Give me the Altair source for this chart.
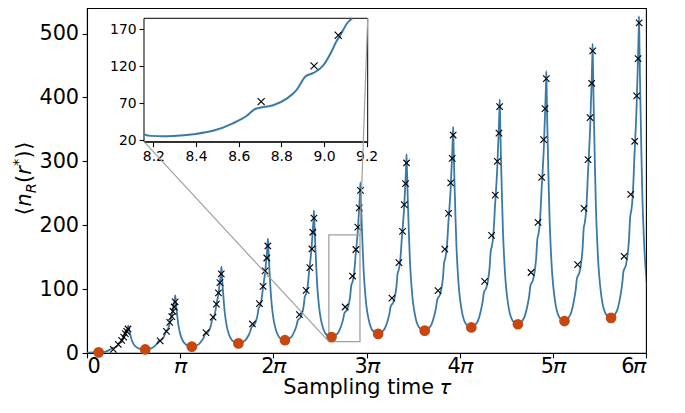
import math
import altair as alt
import pandas as pd

PI = math.pi

# ---------------- data ----------------
# minima of the curve (orange dots): tau in units of pi, value
min_tau_pi = [0.125, 0.625, 1.125, 1.625, 2.125, 2.625, 3.125, 3.625, 4.125, 4.625, 5.125, 5.625]
min_val = [1.0, 5.5, 10.0, 15.0, 20.0, 25.0, 30.0, 35.0, 40.0, 45.0, 50.0, 55.0]
edge_min_val = 60.0  # minimum lying just beyond the right edge (6 pi)

# peaks of the curve
peak_tau_pi = [0.444, 0.947, 1.443, 1.942, 2.436, 2.935, 3.430, 3.930, 4.430, 4.930, 5.427, 5.925]
peak_val = [43, 90, 135, 179, 223, 267, 311, 354, 397, 441, 484, 527]

# shape of one rise (fraction of time / fraction of height)
rise_s = [0.000, 0.048, 0.145, 0.239, 0.335, 0.400, 0.442, 0.465, 0.529, 0.594, 0.642, 0.684,
          0.723, 0.771, 0.810, 0.832, 0.852, 0.884, 0.910, 0.935, 0.955, 0.975, 0.990, 1.000]
rise_f = [0.000, 0.002, 0.012, 0.031, 0.073, 0.114, 0.153, 0.160, 0.174, 0.211, 0.260, 0.335,
          0.355, 0.399, 0.475, 0.529, 0.566, 0.632, 0.690, 0.770, 0.830, 0.900, 0.955, 1.000]
# shape of one fall: time after the peak (units of pi) / fraction of the drop left
fall_d = [0.005, 0.010, 0.017, 0.025, 0.035, 0.048, 0.063, 0.080, 0.100, 0.120, 0.145, 0.170]
fall_g = [0.900, 0.800, 0.680, 0.550, 0.410, 0.290, 0.190, 0.120, 0.065, 0.032, 0.012, 0.003]

# flat start of the curve
start_tau_pi = [0.0, 0.06]
start_val = [0.6, 0.8]

# sampled points (crosses)
cross_tau_pi = [
    0.283, 0.336, 0.372, 0.394, 0.411, 0.426, 0.440,
    0.785, 0.853, 0.888, 0.910, 0.923, 0.936, 0.946,
    1.277, 1.353, 1.389, 1.411, 1.427, 1.441,
    1.776, 1.851, 1.890, 1.912, 1.930, 1.941,
    2.280, 2.352, 2.392, 2.414, 2.424, 2.436,
    2.771, 2.850, 2.886, 2.907, 2.922, 2.936,
    3.273, 3.348, 3.387, 3.405, 3.419, 3.430,
    3.768, 3.841, 3.881, 3.904, 3.920, 3.930,
    4.268, 4.343, 4.382, 4.404, 4.422, 4.429,
    4.766, 4.841, 4.880, 4.901, 4.916, 4.930,
    5.266, 5.335, 5.378, 5.400, 5.417, 5.428,
    5.765, 5.836, 5.879, 5.900, 5.915, 5.926]
cross_val = [
    5.8, 13.6, 19.9, 25.0, 30.3, 34.0, 37.6,
    19.0, 34.0, 48.0, 57.0, 65.0, 72.0, 80.0,
    32.0, 56.0, 76.5, 94.0, 110.0, 124.0,
    45.4, 77.3, 104.4, 128.4, 148.7, 167.5,
    60.0, 98.0, 133.7, 162.8, 189.0, 211.0,
    72.0, 120.5, 162.0, 197.0, 227.0, 254.7,
    86.0, 141.5, 190.5, 232.3, 265.0, 297.4,
    97.5, 162.6, 218.4, 266.3, 304.6, 341.2,
    112.0, 184.0, 247.0, 300.0, 344.0, 385.7,
    126.0, 204.6, 275.0, 334.0, 382.6, 429.6,
    138.4, 226.5, 302.7, 368.5, 422.2, 472.8,
    151.4, 248.4, 331.4, 402.3, 460.9, 516.6]

x_tick_pi = [0, 1, 2, 3, 4, 5, 6]
y_ticks = [0, 100, 200, 300, 400, 500]
inset_x_ticks = [8.2, 8.4, 8.6, 8.8, 9.0, 9.2]
inset_y_ticks = [20, 70, 120, 170]

# ---------------- build tables ----------------
c_tau = list(start_tau_pi)
c_val = list(start_val)
for k in range(len(min_tau_pi)):
    t0, v0 = min_tau_pi[k], min_val[k]
    t1, v1 = peak_tau_pi[k], peak_val[k]
    for s, f in zip(rise_s, rise_f):
        c_tau.append(t0 + s * (t1 - t0))
        c_val.append(v0 + f * (v1 - v0))
    nv = min_val[k + 1] if k + 1 < len(min_val) else edge_min_val
    for d, g in zip(fall_d, fall_g):
        c_tau.append(t1 + d)
        c_val.append(nv + g * (v1 - nv))

df_curve = pd.DataFrame({"tau": [t * PI for t in c_tau], "v": c_val})
df_cross = pd.DataFrame({"tau": [t * PI for t in cross_tau_pi], "v": cross_val})
df_min = pd.DataFrame({"tau": [t * PI for t in min_tau_pi], "v": min_val})

# ---------------- layout ----------------
W, H = 559, 345
X_DOM = [0, 6 * PI]
Y_DOM = [0, 540]
INS_X = [8.156, 9.205]
INS_Y = [17.7, 185.0]
INS_PX = [57.0, 280.7]    # inset box, view pixels
INS_PY = [133.7, 10.3]

FONT = "DejaVu Sans"
BLUE = "#3b7aa7"
ORANGE = "#c8470e"
GREY = "#a0a0a0"
XSHAPE = "M-1,-1L1,1M1,-1L-1,1"

xs = alt.Scale(domain=X_DOM, nice=False, zero=False)
ys = alt.Scale(domain=Y_DOM, nice=False, zero=False)

x_axis = alt.Axis(
    values=[k * PI for k in x_tick_pi],
    labelExpr="round(datum.value / PI) == 0 ? '0' : (round(datum.value / PI) == 1 ? '\U0001D70B' : round(datum.value / PI) + '\U0001D70B')",
    labelBaseline="alphabetic", labelPadding=14.5,
    title="Sampling time \U0001D70F", titleBaseline="alphabetic", titleY=40.5,
)
y_axis = alt.Axis(values=y_ticks, title=None)

curve = alt.Chart(df_curve).mark_line(
    color=BLUE, strokeWidth=1.8, interpolate="monotone", clip=True
).encode(x=alt.X("tau:Q", scale=xs, axis=x_axis), y=alt.Y("v:Q", scale=ys, axis=y_axis))

dots = alt.Chart(df_min).mark_circle(size=115, color=ORANGE, opacity=1).encode(
    x=alt.X("tau:Q", scale=xs), y=alt.Y("v:Q", scale=ys))

crosses = alt.Chart(df_cross).mark_point(
    shape=XSHAPE, size=42, filled=False, color="black", strokeWidth=1.1, opacity=1
).encode(x=alt.X("tau:Q", scale=xs), y=alt.Y("v:Q", scale=ys))

df_box = pd.DataFrame({"tau": [INS_X[0]], "tau2": [INS_X[1]], "v": [INS_Y[0]], "v2": [INS_Y[1]]})
indicator = alt.Chart(df_box).mark_rect(
    fillOpacity=0, stroke=GREY, strokeWidth=1.3
).encode(x=alt.X("tau:Q", scale=xs), x2="tau2:Q", y=alt.Y("v:Q", scale=ys), y2="v2:Q")

main = alt.layer(curve, indicator, dots, crosses)

# inset
ixs = alt.Scale(domain=INS_X, range=INS_PX, nice=False, zero=False, clamp=True)
iys = alt.Scale(domain=INS_Y, range=INS_PY, nice=False, zero=False, clamp=True)
ix_axis = alt.Axis(orient="bottom", offset=INS_PY[0] - H, values=inset_x_ticks, format=".1f",
                   labelFontSize=13.9, title=None, labelFlush=False, labelPadding=3)
iy_axis = alt.Axis(orient="left", offset=-INS_PX[0], values=inset_y_ticks,
                   labelFontSize=13.9, title=None, labelPadding=3)

inset_bg = alt.Chart(df_box).mark_rect(fill="white", stroke="black", strokeWidth=1).encode(
    x=alt.X("tau:Q", scale=ixs, axis=ix_axis), x2="tau2:Q",
    y=alt.Y("v:Q", scale=iys, axis=iy_axis), y2="v2:Q")
inset_curve = alt.Chart(df_curve).transform_filter(
    (alt.datum.tau >= 8.10) & (alt.datum.tau <= 9.14)
).mark_line(color=BLUE, strokeWidth=2.0, interpolate="monotone").encode(
    x=alt.X("tau:Q", scale=ixs), y=alt.Y("v:Q", scale=iys))
inset_cross = alt.Chart(df_cross).transform_filter(
    (alt.datum.tau >= INS_X[0]) & (alt.datum.tau <= INS_X[1]) & (alt.datum.v <= INS_Y[1])
).mark_point(shape=XSHAPE, size=50, filled=False, color="black", strokeWidth=1.1, opacity=1).encode(
    x=alt.X("tau:Q", scale=ixs), y=alt.Y("v:Q", scale=iys))

inset = alt.layer(inset_bg, inset_curve, inset_cross)

# connector lines (main data coordinates)
def px_to_tau(px):
    return px / W * X_DOM[1]

def py_to_v(py):
    return (H - py) / H * Y_DOM[1]

df_conn = pd.DataFrame({
    "tau": [INS_X[0], INS_X[1]],
    "v": [INS_Y[0], INS_Y[1]],
    "tau2": [px_to_tau(INS_PX[0]), px_to_tau(INS_PX[1])],
    "v2": [py_to_v(INS_PY[0]), py_to_v(INS_PY[1])],
})
conn = alt.Chart(df_conn).mark_rule(color=GREY, strokeWidth=1.2).encode(
    x=alt.X("tau:Q", scale=alt.Scale(domain=X_DOM, nice=False, zero=False), axis=None), x2="tau2:Q",
    y=alt.Y("v:Q", scale=alt.Scale(domain=Y_DOM, nice=False, zero=False), axis=None), y2="v2:Q")

# y axis title built from pieces: <n_R(r*)>
pieces = [  # text, italic, size, baseline shift (px, + = subscript), advance (px)
    ("\u27e8", False, 20.8, 0.0, 9.5),
    ("n", True, 20.8, 0.0, 13.2),
    ("R", True, 14.6, 5.0, 10.3),
    ("(", False, 20.8, 0.0, 8.1),
    ("r", True, 20.8, 0.0, 8.7),
    ("*", False, 14.6, -8.0, 7.6),
    (")", False, 20.8, 0.0, 8.1),
    ("\u27e9", False, 20.8, 0.0, 9.5),
]
total = sum(p[4] for p in pieces)
center_y = 170.5
base_x = -56.0
rows = []
pos = center_y + total / 2
for text, it, size, shift, adv in pieces:
    rows.append({"t": text, "it": it, "size": size, "px": base_x + shift, "py": pos - adv / 2})
    pos -= adv
df_title = pd.DataFrame(rows)

def title_layer(italic):
    return alt.Chart(df_title).transform_filter(
        alt.datum.it == italic
    ).mark_text(angle=270, font=FONT, fontStyle="italic" if italic else "normal",
                align="center", baseline="alphabetic", color="black").encode(
        x=alt.X("px:Q", scale=None, axis=None),
        y=alt.Y("py:Q", scale=None, axis=None),
        text="t:N",
        size=alt.Size("size:Q", scale=None, legend=None),
    )

chart = alt.layer(main, inset, conn, title_layer(False), title_layer(True)).resolve_scale(
    x="independent", y="independent"
).properties(
    width=W, height=H,
    autosize=alt.AutoSizeParams(type="none"),
    padding={"left": 79, "top": 0, "right": 20, "bottom": 48},
).configure_view(
    stroke="black", strokeWidth=1.1
).configure_axis(
    grid=False, domainColor="black", tickColor="black", labelColor="black",
    labelFont=FONT, titleFont=FONT, labelFontSize=20.8, titleFontSize=20.8,
    titleFontWeight="normal", titleColor="black", tickWidth=1.1, domainWidth=1.1,
    tickSize=4.9, labelPadding=3.5,
)

chart.save("out.html", embed_options={"renderer": "svg", "actions": False})
